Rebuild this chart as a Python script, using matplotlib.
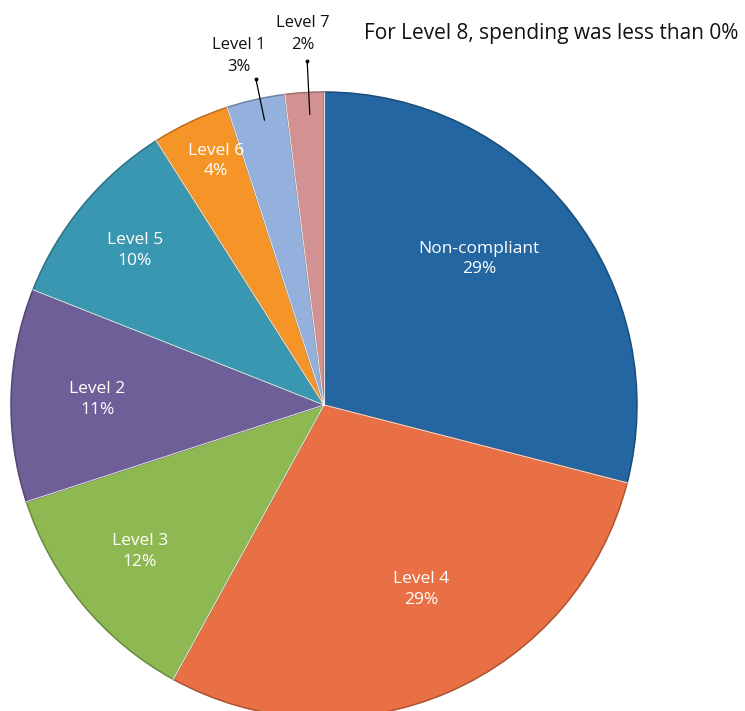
import matplotlib.pyplot as plt
import matplotlib.colors as mcolors
import numpy as np

plt.rcParams['font.family'] = ['Open Sans', 'DejaVu Sans']

# --------------------------
# Data
# --------------------------
categories = ["Non-compliant", "Level 4", "Level 3", "Level 2",
              "Level 5", "Level 6", "Level 1", "Level 7"]
shares = [29, 29, 12, 11, 10, 4, 3, 2]
colors = ["#2466A1", "#E87044", "#8DB852", "#6E5F99",
          "#3A97B1", "#F59427", "#94B0DC", "#D29192"]

# label radius (fraction of pie radius) and angle nudge in degrees
label_r = [0.68, 0.667, 0.752, 0.725, 0.78, 0.853, 1.148, 1.187]
label_nudge = [5.5, 4.3, -1.0, 0.5, 0.4, -1.3, 1.1, -0.4]
inside = [True, True, True, True, True, True, False, False]
leader_end = [0, 0, 0, 0, 0, 0, 1.065, 1.10]

W, H = 745, 711
cx, cy, R = 324, H - 405, 313

fig = plt.figure(figsize=(W / 100, H / 100), dpi=100)
ax = fig.add_axes([0, 0, 1, 1])

edges = [tuple(c * 0.75 for c in mcolors.to_rgb(col)) for col in colors]
wedges, _ = ax.pie(shares, colors=colors, startangle=90, counterclock=False,
                   center=(cx, cy), radius=R, frame=True,
                   wedgeprops=dict(linewidth=1.1, edgecolor="white"))
for w, ec in zip(wedges, edges):
    w.set_edgecolor(ec)

# white separators between slices
for w in wedges:
    a = np.deg2rad(w.theta2)
    ax.plot([cx, cx + R * np.cos(a)], [cy, cy + R * np.sin(a)],
            color="white", linewidth=0.8, alpha=0.8)

# slice labels
for w, name, val, rf, nd, ins, le in zip(wedges, categories, shares,
                                         label_r, label_nudge, inside,
                                         leader_end):
    mid_deg = (w.theta1 + w.theta2) / 2
    mid = np.deg2rad(mid_deg + nd)
    tx = cx + rf * R * np.cos(mid)
    ty = cy + rf * R * np.sin(mid)
    if ins:
        ax.text(tx, ty, f"{name}\n{val}%", ha="center", va="center",
                color="white", fontsize=12.5, linespacing=1.4)
    else:
        ax.text(tx, ty, f"{name}\n{val}%", ha="center", va="center",
                color="#111111", fontsize=12, linespacing=1.45)
        m2 = np.deg2rad(mid_deg - 0.8)
        ax.plot([cx + 0.93 * R * np.cos(m2), cx + le * R * np.cos(m2)],
                [cy + 0.93 * R * np.sin(m2), cy + le * R * np.sin(m2)],
                color="black", linewidth=0.9)
        ax.plot(cx + le * R * np.cos(m2), cy + le * R * np.sin(m2),
                "o", color="black", markersize=1.8)

ax.set_xlim(0, W)
ax.set_ylim(0, H)
ax.set_aspect("equal")
ax.axis("off")

fig.text(551 / W, 1 - 33 / H, "For Level 8, spending was less than 0%",
         ha="center", va="center", fontsize=15, color="#111111")

plt.savefig("out.png", dpi=100)
